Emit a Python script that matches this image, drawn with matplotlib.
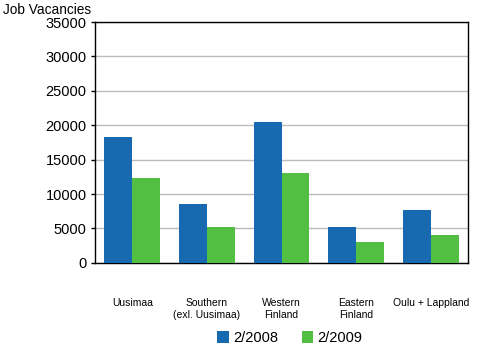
import matplotlib.pyplot as plt
import numpy as np

# Job vacancies by region
regions = ['Uusimaa', 'Southern\n(exl. Uusimaa)', 'Western\nFinland',
           'Eastern\nFinland', 'Oulu + Lappland']
vac_2008 = [18300, 8600, 20500, 5250, 7700]
vac_2009 = [12350, 5250, 13100, 3050, 4100]
series_names = ['2/2008', '2/2009']

plt.rcParams['font.family'] = ['Liberation Sans', 'DejaVu Sans']

fig = plt.figure(figsize=(5, 3.5), dpi=100)
ax = fig.add_axes([0.19, 0.249, 0.746, 0.688])

x = np.arange(len(regions))
w = 0.375
b1 = ax.bar(x - w / 2, vac_2008, w, color='#1769b0', label=series_names[0], zorder=3)
b2 = ax.bar(x + w / 2, vac_2009, w, color='#52bf43', label=series_names[1], zorder=3)

ax.set_xlim(-0.5, len(regions) - 0.5)
ax.set_ylim(0, 35000)
ax.set_yticks(range(0, 35001, 5000))
ax.tick_params(axis='y', labelsize=10.5, length=3, width=1, pad=3)
ax.tick_params(axis='x', length=0, pad=25)
ax.set_xticks(x)
ax.set_xticklabels(regions, fontsize=7.5, linespacing=1.25, va='top')
ax.grid(axis='y', color='#bbbbbb', linewidth=1, zorder=0)
for s in ax.spines.values():
    s.set_color('black')
    s.set_linewidth(1)

fig.text(0.006, 0.972, 'Job Vacancies', fontsize=9.8, va='center', ha='left')

fig.legend(handles=[b1, b2], loc='center', bbox_to_anchor=(0.58, 0.034),
           ncol=2, frameon=False, fontsize=10.5, handlelength=0.8,
           handleheight=0.8, handletextpad=0.3, columnspacing=1.6)

fig.savefig('out.png', dpi=100)
